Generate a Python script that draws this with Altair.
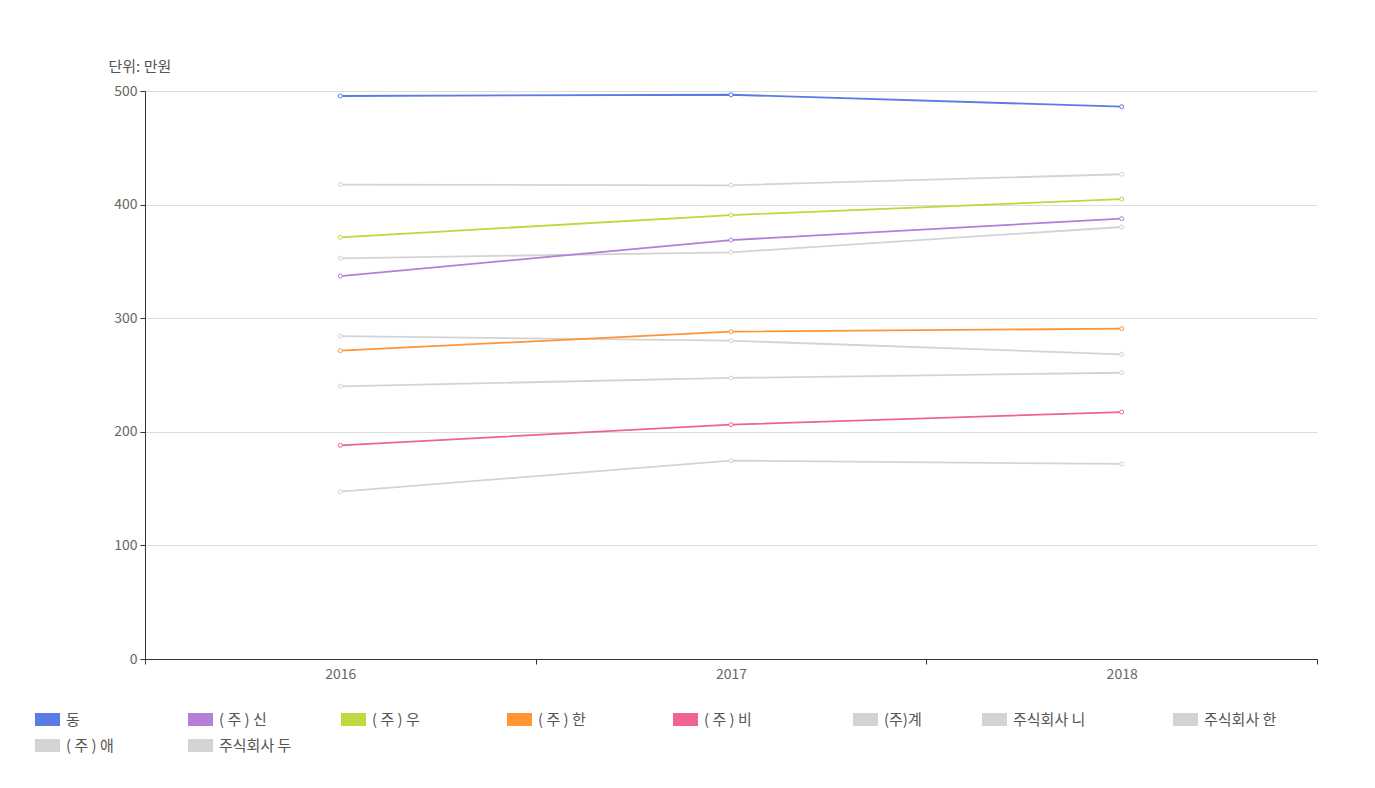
import altair as alt
import pandas as pd

years = [2016, 2017, 2018]
names = ["동", "( 주 ) 신", "( 주 ) 우", "( 주 ) 한", "( 주 ) 비",
         "(주)계", "주식회사 니", "주식회사 한", "( 주 ) 애", "주식회사 두"]
v_dong = [495.6, 496.7, 486.2]
v_shin = [337.1, 368.8, 387.6]
v_woo = [371.2, 390.8, 404.9]
v_han = [271.4, 288.1, 290.8]
v_bi = [188.1, 206.3, 217.4]
v_gye = [417.6, 417.0, 426.7]
v_ni = [352.7, 358.0, 380.3]
v_han2 = [284.3, 280.2, 268.2]
v_ae = [240.0, 247.4, 252.0]
v_du = [147.3, 174.6, 171.7]
series_values = [v_dong, v_shin, v_woo, v_han, v_bi, v_gye, v_ni, v_han2, v_ae, v_du]
colors = ["#5b7be6", "#b57fd8", "#c2d63e", "#ff9535", "#f0638f",
          "#d3d3d3", "#d3d3d3", "#d3d3d3", "#d3d3d3", "#d3d3d3"]
highlighted = [True, True, True, True, True, False, False, False, False, False]
# blank filler characters standing in for the hidden part of each legend name
label_pads = [6, 4, 5, 5, 6, 3, 5, 6, 4, 2]

labels = [n + "\u3164" * p for n, p in zip(names, label_pads)]

rows = []
for lab, vals, hl in zip(labels, series_values, highlighted):
    for y, v in zip(years, vals):
        rows.append({"label": lab, "year": y, "value": v, "hl": hl})
df = pd.DataFrame(rows)

color_scale = alt.Scale(domain=labels, range=colors)

x_enc = alt.X(
    "year:Q",
    scale=alt.Scale(domain=[2015.5, 2018.5], nice=False, zero=False),
    axis=alt.Axis(
        values=[2015.5, 2016, 2016.5, 2017, 2017.5, 2018, 2018.5],
        labelExpr="datum.value % 1 == 0 ? format(datum.value, 'd') : ''",
        tickOpacity={"condition": {"test": "datum.value % 1 == 0", "value": 0}, "value": 1},
        grid=False, title=None, labelOverlap=False, labelFlush=False,
        tickSize=5, tickColor="#333", domainColor="#333",
        labelColor="#666", labelFontSize=14, labelPadding=3,
    ),
)
y_enc = alt.Y(
    "value:Q",
    scale=alt.Scale(domain=[0, 500], nice=False),
    axis=alt.Axis(
        values=[0, 100, 200, 300, 400, 500],
        title="단위: 만원", titleAngle=0, titleX=-37, titleY=-25,
        titleAlign="left", titleBaseline="middle", titleFontWeight="normal",
        titleFontSize=15, titleColor="#555",
        labelColor="#666", labelFontSize=14, labelPadding=3,
        tickSize=5, tickColor="#333", domainColor="#333",
        gridColor="#dcdcdc",
    ),
)

legend = alt.Legend(
    orient="none", legendX=-110, legendY=616, direction="horizontal",
    columns=8, gridAlign="none", title=None,
    symbolType="M-1,-0.52H1V0.52H-1Z", symbolSize=625, symbolStrokeWidth=0,
    symbolOpacity=1,
    labelFontSize=15, labelColor="#555", labelOffset=6,
    columnPadding=18, rowPadding=5, labelLimit=400, padding=0,
)

base = alt.Chart(df)
legend_layer = base.mark_square(opacity=0, size=1).encode(
    x=x_enc, y=y_enc,
    color=alt.Color("label:N", scale=color_scale, legend=legend, sort=labels),
)
stroke_enc = alt.Stroke("label:N", scale=color_scale, legend=None)
gray_lines = base.transform_filter("!datum.hl").mark_line(strokeWidth=1.8).encode(
    x=x_enc, y=y_enc, stroke=stroke_enc,
)
color_lines = base.transform_filter("datum.hl").mark_line(strokeWidth=1.8).encode(
    x=x_enc, y=y_enc, stroke=stroke_enc,
)
points = base.mark_circle(fill="white", size=16, strokeWidth=1, opacity=1).encode(
    x=x_enc, y=y_enc, stroke=stroke_enc,
)

chart = alt.layer(legend_layer, gray_lines, color_lines, points).properties(
    width=1172, height=568,
    padding={"left": 145, "top": 91, "right": 58, "bottom": 129},
    autosize=alt.AutoSizeParams(type="none"),
    background="white",
).configure(font="Noto Sans CJK KR").configure_view(stroke=None)

chart.save("out.html", embed_options={"renderer": "svg", "actions": False})
